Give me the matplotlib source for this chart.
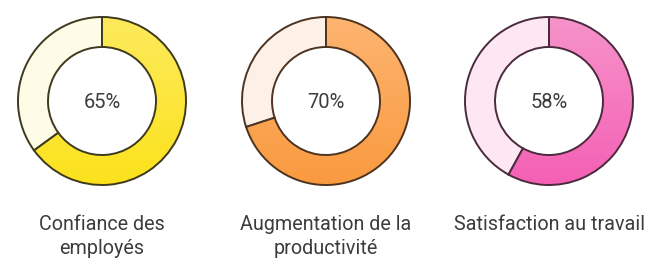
import numpy as np
import matplotlib
matplotlib.use("Agg")
import matplotlib.pyplot as plt
from matplotlib.colors import LinearSegmentedColormap

# Données du graphique
categories = ["Confiance des\nemployés", "Augmentation de la\nproductivité", "Satisfaction au travail"]
percentages = [65, 70, 58]

# Couleurs (haut / bas du dégradé, partie claire, contour)
color_top = ["#FDEA5C", "#FDB471", "#F693CA"]
color_bottom = ["#FBE21C", "#FA9A3F", "#F460B4"]
color_rest = ["#FEFBE7", "#FDF0E6", "#FDE7F3"]
color_edge = ["#3d3a1e", "#4d3320", "#4a2a3c"]

W, H = 663, 276
centers_x = [102, 326, 549]
center_y = H - 101
r_out = 84
ring = 30
text_color = "#3c3c3c"

fig = plt.figure(figsize=(W / 100, H / 100), dpi=100)
ax = fig.add_axes([0, 0, 1, 1])

grad = np.linspace(0, 1, 256).reshape(-1, 1)

for i, pct in enumerate(percentages):
    cx = centers_x[i]
    wedges, _ = ax.pie(
        [pct, 100 - pct],
        center=(cx, center_y),
        radius=r_out,
        startangle=90,
        counterclock=False,
        colors=["none", color_rest[i]],
        wedgeprops=dict(width=ring, edgecolor=color_edge[i], linewidth=1.4),
    )
    wedges[0].set_zorder(3)
    wedges[1].set_zorder(2)

    # dégradé vertical dans la partie remplie
    cmap = LinearSegmentedColormap.from_list("g%d" % i, [color_top[i], color_bottom[i]])
    im = ax.imshow(
        grad, cmap=cmap, aspect="auto", origin="upper",
        extent=(cx - r_out, cx + r_out, center_y - r_out, center_y + r_out),
        zorder=2.5,
    )
    im.set_clip_path(wedges[0])

    ax.text(cx, center_y - 1.5, f"{pct}%", ha="center", va="center",
            fontsize=14.5, family="Roboto", color=text_color, zorder=4)
    ax.text(cx, H - 215, categories[i], ha="center", va="top",
            fontsize=14.2, family="Roboto", color=text_color, linespacing=1.3)

ax.set_xlim(0, W)
ax.set_ylim(0, H)
ax.set_aspect("equal")
ax.axis("off")

fig.savefig("out.png", dpi=100)
